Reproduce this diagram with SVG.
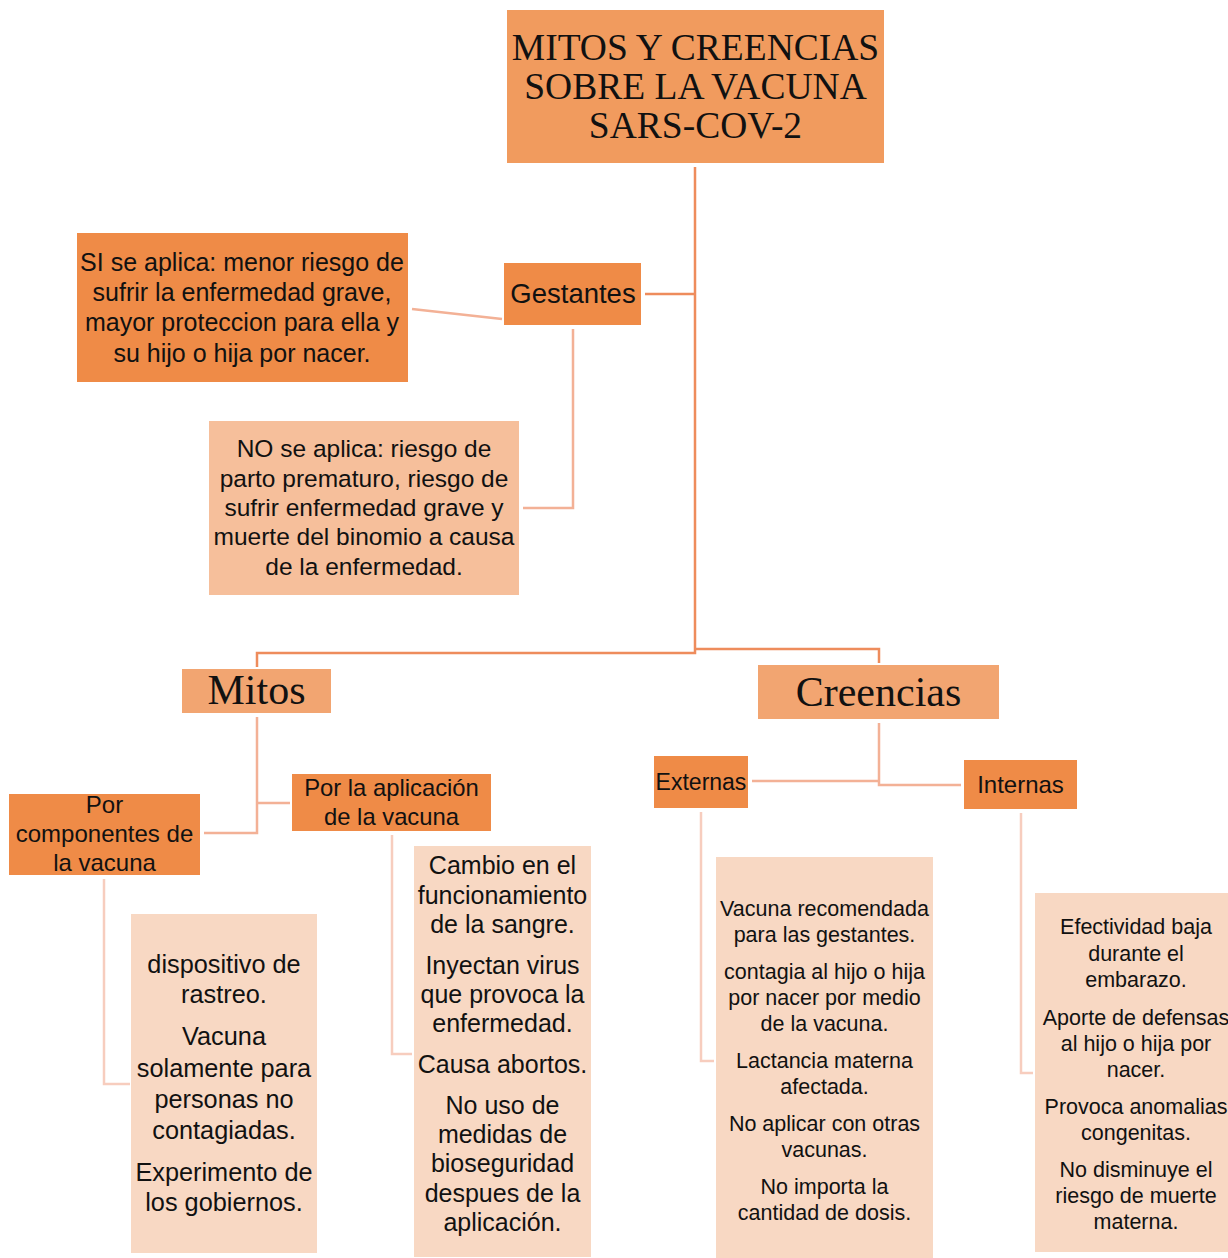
<svg xmlns="http://www.w3.org/2000/svg" width="1228" height="1258" viewBox="0 0 1228 1258">
<style>
.sans{font-family:"Liberation Sans",Arial,sans-serif;fill:#111;text-anchor:middle}
.serif{font-family:"Liberation Serif","Times New Roman",serif;fill:#111;text-anchor:middle}
.dark{fill:#EF8B47}
.mid{fill:#F2A571}
.title{fill:#F19B5E}
.pale{fill:#F6BF9B}
.list{fill:#F8D8C3}
.c1{stroke:#EE8C5C;stroke-width:2.5;fill:none}
.c2{stroke:#F3B196;stroke-width:2.5;fill:none}
.c3{stroke:#F7CDBE;stroke-width:2.5;fill:none}
</style>
<rect width="1228" height="1258" fill="#fff"/>
<g id="connectors">
<polyline class="c1" points="695,167 695,653 257,653 257,667"/>
<polyline class="c1" points="695,649 879,649 879,663"/>
<polyline class="c1" points="645,294 695,294"/>
<line class="c2" x1="412" y1="309" x2="502" y2="319"/>
<polyline class="c2" points="573,329 573,508 523,508"/>
<polyline class="c2" points="257,717 257,833 204,833"/>
<polyline class="c2" points="257,803 290,803"/>
<polyline class="c2" points="879,723 879,785 961,785"/>
<polyline class="c2" points="879,781 752,781"/>
<polyline class="c3" points="104,879 104,1084 130,1084"/>
<polyline class="c3" points="392,835 392,1054 412,1054"/>
<polyline class="c3" points="701,812 701,1061 714,1061"/>
<polyline class="c3" points="1021,813 1021,1073 1033,1073"/>
</g>
<g id="title">
<rect class="title" x="507" y="10" width="377" height="153"/>
<text class="serif" font-size="37.5" x="695.5"><tspan x="695.5" y="60">MITOS Y CREENCIAS</tspan><tspan x="695.5" y="99">SOBRE LA VACUNA</tspan><tspan x="695.5" y="138">SARS-COV-2</tspan></text>
</g>
<g id="gestantes">
<rect class="dark" x="504" y="263" width="137" height="62"/>
<text class="sans" font-size="27.5" x="573" y="303">Gestantes</text>
</g>
<g id="si-aplica">
<rect class="dark" x="77" y="233" width="331" height="149"/>
<text class="sans" font-size="25" x="242"><tspan x="242" y="271">SI se aplica: menor riesgo de</tspan><tspan x="242" y="301">sufrir la enfermedad grave,</tspan><tspan x="242" y="331">mayor proteccion para ella y</tspan><tspan x="242" y="362">su hijo o hija por nacer.</tspan></text>
</g>
<g id="no-aplica">
<rect class="pale" x="209" y="421" width="310" height="174"/>
<text class="sans" font-size="24.5" x="364"><tspan x="364" y="457">NO se aplica: riesgo de</tspan><tspan x="364" y="487">parto prematuro, riesgo de</tspan><tspan x="364" y="516">sufrir enfermedad grave y</tspan><tspan x="364" y="545">muerte del binomio a causa</tspan><tspan x="364" y="575">de la enfermedad.</tspan></text>
</g>
<g id="mitos">
<rect class="mid" x="182" y="669" width="149" height="44"/>
<text class="serif" font-size="42" x="256.5" y="704">Mitos</text>
</g>
<g id="creencias">
<rect class="mid" x="758" y="665" width="241" height="54"/>
<text class="serif" font-size="42" x="878.5" y="706">Creencias</text>
</g>
<g id="por-componentes">
<rect class="dark" x="9" y="794" width="191" height="81"/>
<text class="sans" font-size="24" x="104.5"><tspan x="104.5" y="813">Por</tspan><tspan x="104.5" y="842">componentes de</tspan><tspan x="104.5" y="871">la vacuna</tspan></text>
</g>
<g id="por-aplicacion">
<rect class="dark" x="292" y="774" width="199" height="57"/>
<text class="sans" font-size="23.8" x="391.5"><tspan x="391.5" y="796">Por la aplicación</tspan><tspan x="391.5" y="825">de la vacuna</tspan></text>
</g>
<g id="externas">
<rect class="dark" x="654" y="756" width="94" height="52"/>
<text class="sans" font-size="23" x="701" y="790">Externas</text>
</g>
<g id="internas">
<rect class="dark" x="964" y="760" width="113" height="49"/>
<text class="sans" font-size="24" x="1020.5" y="793">Internas</text>
</g>
<g id="lista-componentes">
<rect class="list" x="131" y="914" width="186" height="339"/>
<text class="sans" font-size="25.3" x="224"><tspan x="224" y="973">dispositivo de</tspan><tspan x="224" y="1003">rastreo.</tspan><tspan x="224" y="1045">Vacuna</tspan><tspan x="224" y="1077">solamente para</tspan><tspan x="224" y="1108">personas no</tspan><tspan x="224" y="1139">contagiadas.</tspan><tspan x="224" y="1181">Experimento de</tspan><tspan x="224" y="1211">los gobiernos.</tspan></text>
</g>
<g id="lista-aplicacion">
<rect class="list" x="414" y="846" width="177" height="411"/>
<text class="sans" font-size="25" x="502.5"><tspan x="502.5" y="874">Cambio en el</tspan><tspan x="502.5" y="904">funcionamiento</tspan><tspan x="502.5" y="933">de la sangre.</tspan><tspan x="502.5" y="974">Inyectan virus</tspan><tspan x="502.5" y="1003">que provoca la</tspan><tspan x="502.5" y="1032">enfermedad.</tspan><tspan x="502.5" y="1073">Causa abortos.</tspan><tspan x="502.5" y="1114">No uso de</tspan><tspan x="502.5" y="1143">medidas de</tspan><tspan x="502.5" y="1172">bioseguridad</tspan><tspan x="502.5" y="1202">despues de la</tspan><tspan x="502.5" y="1231">aplicación.</tspan></text>
</g>
<g id="lista-externas">
<rect class="list" x="716" y="857" width="217" height="401"/>
<text class="sans" font-size="21.5" x="824.5"><tspan x="824.5" y="916">Vacuna recomendada</tspan><tspan x="824.5" y="942">para las gestantes.</tspan><tspan x="824.5" y="979">contagia al hijo o hija</tspan><tspan x="824.5" y="1005">por nacer por medio</tspan><tspan x="824.5" y="1031">de la vacuna.</tspan><tspan x="824.5" y="1068">Lactancia materna</tspan><tspan x="824.5" y="1094">afectada.</tspan><tspan x="824.5" y="1131">No aplicar con otras</tspan><tspan x="824.5" y="1157">vacunas.</tspan><tspan x="824.5" y="1194">No importa la</tspan><tspan x="824.5" y="1220">cantidad de dosis.</tspan></text>
</g>
<g id="lista-internas">
<rect class="list" x="1035" y="893" width="193" height="359"/>
<text class="sans" font-size="21.5" x="1136"><tspan x="1136" y="934">Efectividad baja</tspan><tspan x="1136" y="961">durante el</tspan><tspan x="1136" y="987">embarazo.</tspan><tspan x="1136" y="1025">Aporte de defensas</tspan><tspan x="1136" y="1051">al hijo o hija por</tspan><tspan x="1136" y="1077">nacer.</tspan><tspan x="1136" y="1114">Provoca anomalias</tspan><tspan x="1136" y="1140">congenitas.</tspan><tspan x="1136" y="1177">No disminuye el</tspan><tspan x="1136" y="1203">riesgo de muerte</tspan><tspan x="1136" y="1229">materna.</tspan></text>
</g>
</svg>
